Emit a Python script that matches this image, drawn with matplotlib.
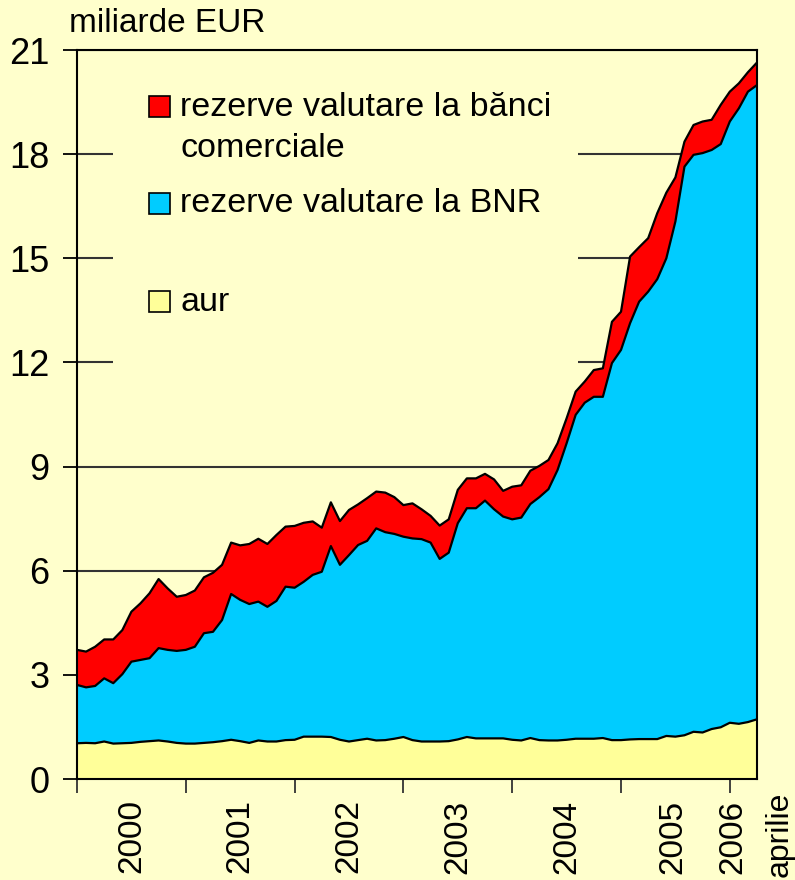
import matplotlib
matplotlib.use("Agg")
import matplotlib.pyplot as plt
from matplotlib.patches import Rectangle
import numpy as np

plt.rcParams['font.family'] = ['Liberation Sans', 'DejaVu Sans']

# Monthly data: Jan 2000 .. Apr 2006 (billion EUR)
months = list(range(76))

aur = [1.03, 1.04, 1.03, 1.08, 1.02, 1.03, 1.04, 1.07, 1.09, 1.11,
       1.08, 1.04, 1.02, 1.02, 1.04, 1.06, 1.09, 1.13, 1.09, 1.04,
       1.11, 1.08, 1.08, 1.12, 1.13, 1.22, 1.22, 1.22, 1.21, 1.13,
       1.08, 1.12, 1.16, 1.11, 1.12, 1.16, 1.21, 1.12, 1.08, 1.08,
       1.08, 1.09, 1.14, 1.21, 1.17, 1.17, 1.17, 1.17, 1.13, 1.11,
       1.18, 1.12, 1.11, 1.11, 1.13, 1.16, 1.16, 1.16, 1.18, 1.12,
       1.12, 1.14, 1.15, 1.15, 1.15, 1.24, 1.22, 1.26, 1.36, 1.34,
       1.44, 1.49, 1.62, 1.59, 1.64, 1.72]

rezerve_bnr = [1.68, 1.60, 1.65, 1.82, 1.74, 1.99, 2.34, 2.36, 2.39, 2.66,
               2.64, 2.65, 2.70, 2.79, 3.16, 3.18, 3.49, 4.20, 4.07, 4.00,
               4.00, 3.88, 4.05, 4.42, 4.38, 4.46, 4.66, 4.75, 5.50, 5.04,
               5.37, 5.62, 5.70, 6.11, 5.99, 5.90, 5.77, 5.81, 5.83, 5.73,
               5.26, 5.43, 6.23, 6.59, 6.63, 6.85, 6.60, 6.39, 6.35, 6.42,
               6.74, 7.00, 7.24, 7.79, 8.54, 9.33, 9.68, 9.85, 9.83, 10.86,
               11.24, 11.99, 12.60, 12.89, 13.25, 13.76, 14.84, 16.38, 16.62, 16.69,
               16.68, 16.80, 17.32, 17.73, 18.16, 18.27]

rezerve_banci = [1.01, 1.03, 1.13, 1.12, 1.26, 1.27, 1.44, 1.63, 1.87, 1.99,
                 1.77, 1.56, 1.58, 1.62, 1.61, 1.70, 1.59, 1.48, 1.57, 1.73,
                 1.81, 1.81, 1.90, 1.73, 1.78, 1.70, 1.54, 1.27, 1.26, 1.26,
                 1.30, 1.17, 1.23, 1.06, 1.14, 1.06, 0.91, 1.01, 0.86, 0.77,
                 0.96, 0.96, 0.96, 0.86, 0.86, 0.77, 0.86, 0.74, 0.94, 0.93,
                 0.96, 0.90, 0.84, 0.77, 0.72, 0.67, 0.61, 0.77, 0.82, 1.19,
                 1.10, 1.92, 1.57, 1.54, 1.90, 1.89, 1.27, 0.72, 0.86, 0.91,
                 0.87, 1.13, 0.86, 0.72, 0.56, 0.65]

series_labels = ["rezerve valutare la bănci\ncomerciale",
                 "rezerve valutare la BNR",
                 "aur"]
series_colors = ["#FF0000", "#00CCFF", "#FFFF99"]

year_labels = ["2000", "2001", "2002", "2003", "2004", "2005", "2006", "aprilie"]
year_label_pos = [6, 18, 30, 42, 54, 65.7, 72.3, 77.5]
year_ticks = [0, 12, 24, 36, 48, 60, 72]
y_ticks = [0, 3, 6, 9, 12, 15, 18, 21]

BG = "#FFFFCC"
W, H = 795, 880
fig = plt.figure(figsize=(W / 100, H / 100), dpi=100, facecolor=BG)
ax = fig.add_axes([77 / W, 1 - 779 / H, (757 - 77) / W, (779 - 50) / H])
ax.set_facecolor(BG)

x = np.array(months)
g = np.array(aur)
b = g + np.array(rezerve_bnr)
t = b + np.array(rezerve_banci)

ax.fill_between(x, 0, g, facecolor=series_colors[2], edgecolor='none', zorder=2)
ax.fill_between(x, g, b, facecolor=series_colors[1], edgecolor='none', zorder=2)
ax.fill_between(x, b, t, facecolor=series_colors[0], edgecolor='none', zorder=2)
for arr in (g, b, t):
    ax.plot(x, arr, color='black', lw=1.6, zorder=3)

ax.set_xlim(0, 75)
ax.set_ylim(0, 21)
ax.set_yticks(y_ticks)
ax.set_yticklabels([str(v) for v in y_ticks])
ax.set_xticks(year_ticks)
ax.set_xticklabels([])
ax.yaxis.grid(True, color='#333333', lw=1.5, zorder=0.5)
ax.set_axisbelow(True)
ax.tick_params(axis='y', length=10, width=1.3, direction='out', pad=10,
               labelsize=26, colors='black')
ax.tick_params(axis='x', length=10, width=1.3, direction='out', colors='#333333')
for s in ax.spines.values():
    s.set_color('black')
    s.set_linewidth(1.5)
    s.set_zorder(4)

trans = ax.get_xaxis_transform()
for lab, pos in zip(year_labels, year_label_pos):
    top = -0.028 if lab != "aprilie" else -0.017
    ax.text(pos, top, lab, rotation=90, ha='center', va='top',
            fontsize=24 if lab != "aprilie" else 23, transform=trans, clip_on=False)


def fx(px):
    return px / W


def fy(py):
    return 1 - py / H


# legend background covering gridlines
ax.add_patch(Rectangle((fx(113), fy(400)), fx(578) - fx(113), fy(62) - fy(400),
                       transform=fig.transFigure, facecolor=BG,
                       edgecolor='none', zorder=1.5))

leg_items = [(107, 0), (204, 1), (302, 2)]
for cy, k in leg_items:
    ax.add_patch(Rectangle((fx(149), fy(cy + 10.5)), fx(21), 21 / H,
                           transform=fig.transFigure, facecolor=series_colors[k],
                           edgecolor='black', lw=1.2, zorder=5, clip_on=False))
    if k == 0:
        ax.text(fx(180), fy(cy - 15), series_labels[k], transform=fig.transFigure,
                ha='left', va='top', fontsize=24.5, linespacing=1.4, zorder=5)
    else:
        ax.text(fx(180), fy(cy), series_labels[k], transform=fig.transFigure,
                ha='left', va='center', fontsize=24.5, zorder=5)

fig.text(fx(69), fy(23), "miliarde EUR", ha='left', va='center', fontsize=24)

fig.savefig("out.png", dpi=100, facecolor=BG)
